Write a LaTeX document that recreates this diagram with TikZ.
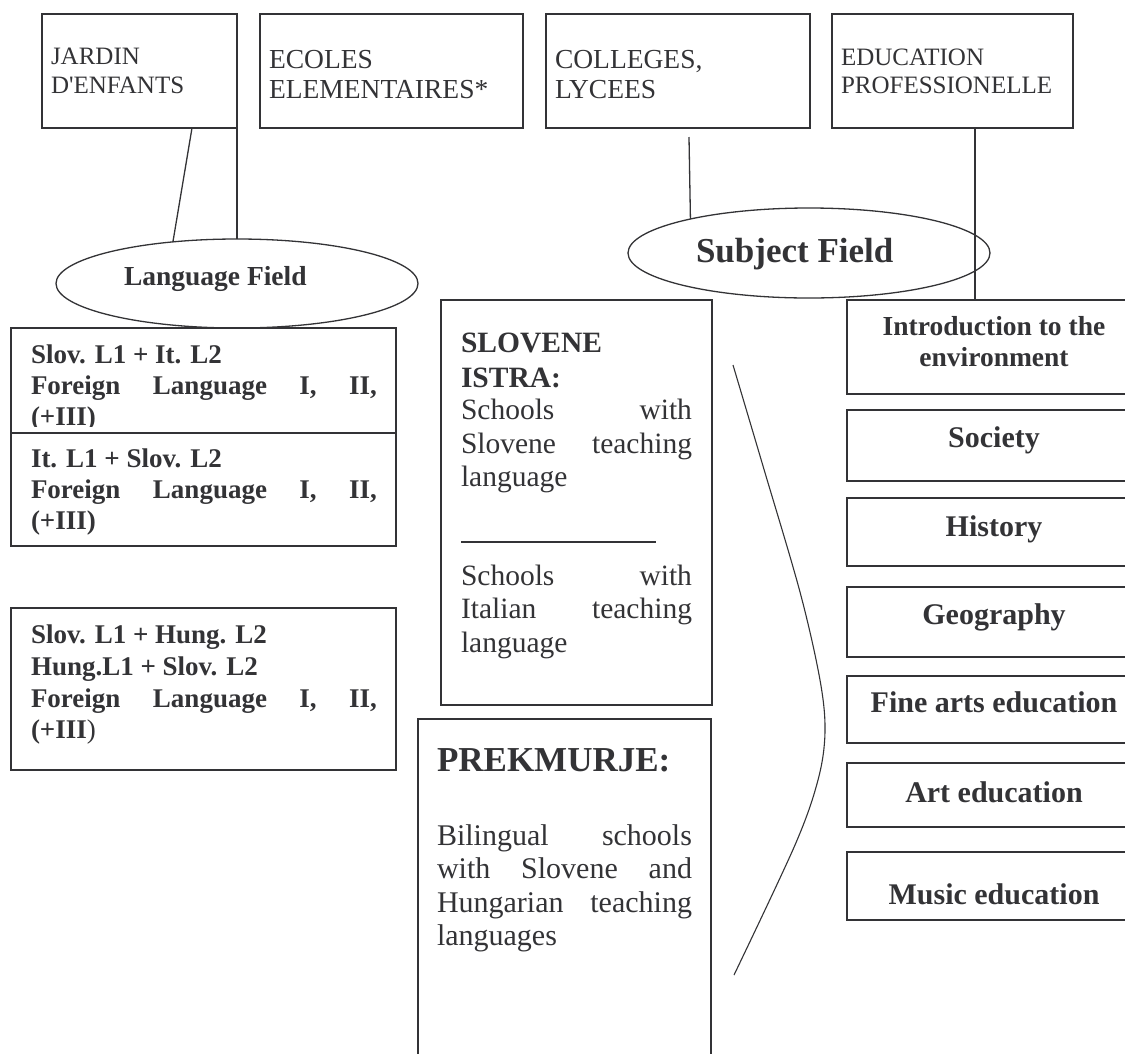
\documentclass[tikz,border=0pt]{standalone}
\usepackage{fontspec}
\setmainfont{Liberation Serif}
\newfontfamily\rawserif{Liberation Serif}[Ligatures=TeXOff]
\usetikzlibrary{shapes.geometric}
\definecolor{ink}{HTML}{333336}
\newcommand{\fs}[1]{\fontsize{#1}{#1}\selectfont}
\newcommand{\jst}[2]{\makebox[#1][s]{#2}}
\begin{document}
\begin{tikzpicture}[x=1pt,y=-1pt,
  topbox/.style={draw=ink, line width=1.6pt, inner sep=0pt, outer sep=0pt, anchor=north west, minimum height=114pt},
  frame/.style={draw=ink, line width=1.3pt, inner sep=0pt, outer sep=0pt, anchor=north west},
  oval/.style={draw=ink, line width=1.3pt, ellipse, inner sep=0pt, outer sep=0pt, minimum width=362pt},
  subj/.style={frame, minimum width=294pt},
  conn/.style={draw=ink, line width=1.3pt},
  txt/.style={inner sep=0pt, outer sep=0pt, anchor=base west, text=ink},
  ctxt/.style={inner sep=0pt, outer sep=0pt, anchor=base, text=ink, font=\fs{30}\bfseries},
]
\useasboundingbox (0,0) rectangle (1125,1053);
\fill[white] (0,0) rectangle (1125,1053);
\clip (0,0) rectangle (1125,1053);

% top boxes
\node[topbox, minimum width=195pt] (b1) at (42,14) {};
\node[topbox, minimum width=263pt] (b2) at (260,14) {};
\node[topbox, minimum width=264pt] (b3) at (546,14) {};
\node[topbox, minimum width=241pt] (b4) at (832,14) {};
\node[txt, font=\fs{25}\rawserif] (t1a) at (51,64) {JARDIN};
\node[txt, font=\fs{25}\rawserif] (t1b) at (51,93) {D'ENFANTS};
\node[txt, font=\fs{27.5}] (t2a) at (269,68) {ECOLES};
\node[txt, font=\fs{27.5}] (t2b) at (269,98) {ELEMENTAIRES*};
\node[txt, font=\fs{27.5}] (t3a) at (555,68) {COLLEGES,};
\node[txt, font=\fs{27.5}] (t3b) at (555,98) {LYCEES};
\node[txt, font=\fs{25}] (t4a) at (841,65) {EDUCATION};
\node[txt, font=\fs{25}] (t4b) at (841,93) {PROFESSIONELLE};

% ovals
\node[oval, minimum height=89pt] (lf) at (237,283.5) {};
\node[txt, font=\fs{27.5}\bfseries] (lft) at (124,285) {Language Field};
\node[oval, minimum height=90pt] (sf) at (809,253) {};
\node[txt, font=\fs{35}\bfseries] (sft) at (696,262) {Subject Field};

% left language boxes
\node[frame, minimum width=385pt, minimum height=105pt] (bA) at (11,328) {};
\node[frame, minimum width=385pt, minimum height=113pt] (bB) at (11,433) {};
\node[frame, minimum width=385pt, minimum height=162pt] (bC) at (11,608) {};
\node[txt, font=\fs{27}\bfseries] (tA1) at (31,363) {Slov. L1 + It. L2};
\node[txt, font=\fs{27}\bfseries] (tA2) at (31,394) {\jst{346pt}{Foreign Language I, II,}};
\begin{scope}
\clip (0,0) rectangle (420,426.5);
\node[txt, font=\fs{27}\bfseries] (tA3) at (31,425) {(+III)};
\end{scope}
\node[txt, font=\fs{27}\bfseries] (tB1) at (31,467) {It. L1 + Slov. L2};
\node[txt, font=\fs{27}\bfseries] (tB2) at (31,498) {\jst{346pt}{Foreign Language I, II,}};
\node[txt, font=\fs{27}\bfseries] (tB3) at (31,529) {(+III)};
\node[txt, font=\fs{27}\bfseries] (tC1) at (31,643) {Slov. L1 + Hung. L2};
\node[txt, font=\fs{27}\bfseries] (tC2) at (31,675) {Hung.L1 + Slov. L2};
\node[txt, font=\fs{27}\bfseries] (tC3) at (31,707) {\jst{346pt}{Foreign Language I, II,}};
\node[txt, font=\fs{27}\bfseries] (tC4) at (31,738) {(+III\textmd{)}};

% middle boxes
\node[frame, minimum width=271pt, minimum height=405pt] (istra) at (441,300) {};
\node[txt, font=\fs{29.5}\bfseries] (i1) at (461,352) {SLOVENE};
\node[txt, font=\fs{29.5}\bfseries] (i2) at (461,387) {ISTRA:};
\node[txt, font=\fs{29.5}] (i3) at (461,419) {\jst{231pt}{Schools with}};
\node[txt, font=\fs{29.5}] (i4) at (461,453) {\jst{231pt}{Slovene teaching}};
\node[txt, font=\fs{29.5}] (i5) at (461,486) {language};
\coordinate (ruleL) at (461,542);
\coordinate (ruleR) at (656,542);
\draw[draw=ink, line width=1.1pt] (ruleL) -- (ruleR);
\node[txt, font=\fs{29.5}] (i6) at (461,585) {\jst{231pt}{Schools with}};
\node[txt, font=\fs{29.5}] (i7) at (461,618) {\jst{231pt}{Italian teaching}};
\node[txt, font=\fs{29.5}] (i8) at (461,652) {language};

\node[frame, minimum width=293pt, minimum height=400pt] (prek) at (418,719) {};
\node[txt, font=\fs{35}\bfseries] (p1) at (437,771) {PREKMURJE:};
\node[txt, font=\fs{30}] (p2) at (437,845) {\jst{255pt}{Bilingual schools}};
\node[txt, font=\fs{30}] (p3) at (437,878) {\jst{255pt}{with Slovene and}};
\node[txt, font=\fs{30}] (p4) at (437,912) {\jst{255pt}{Hungarian teaching}};
\node[txt, font=\fs{30}] (p5) at (437,945) {languages};

% bracket curve
\coordinate (k1) at (733,365);
\coordinate (k2) at (763,466);
\coordinate (k3) at (800,592);
\coordinate (k4) at (820,680);
\coordinate (k5) at (825,732);
\coordinate (k6) at (818,780);
\coordinate (k7) at (795,845);
\coordinate (k8) at (734,975);
\draw[draw=ink, line width=1.1pt] plot[smooth, tension=0.55] coordinates {(k1) (k2) (k3) (k4) (k5) (k6) (k7) (k8)};

% subject boxes
\node[subj, minimum height=94pt] (intro) at (847,300) {};
\node[subj, minimum height=71pt] (soc) at (847,410) {};
\node[subj, minimum height=68pt] (hist) at (847,498) {};
\node[subj, minimum height=70pt] (geo) at (847,587) {};
\node[subj, minimum height=67pt] (fine) at (847,676) {};
\node[subj, minimum height=64pt] (art) at (847,763) {};
\node[subj, minimum height=68pt] (music) at (847,852) {};
\node[ctxt, font=\fs{27.5}\bfseries] (s1a) at (994,335) {Introduction to the};
\node[ctxt, font=\fs{27.5}\bfseries] (s1b) at (994,366) {environment};
\node[ctxt] (s2) at (994,447) {Society};
\node[ctxt] (s3) at (994,536) {History};
\node[ctxt] (s4) at (994,624) {Geography};
\node[ctxt] (s5) at (994,712) {Fine arts education};
\node[ctxt] (s6) at (994,802) {Art education};
\node[ctxt] (s7) at (994,904) {Music education};

% connectors
\draw[conn] ([xshift=52.5pt]b1.south) -- (lf.147);
\draw[conn] (b1.south east) -- (lf.north);
\coordinate (c3) at (689,137);
\draw[conn] (c3) -- (sf.164.2);
\draw[conn] ([xshift=22.5pt]b4.south) -- ([xshift=22.5pt]b4.south |- intro.north);
\end{tikzpicture}
\end{document}
